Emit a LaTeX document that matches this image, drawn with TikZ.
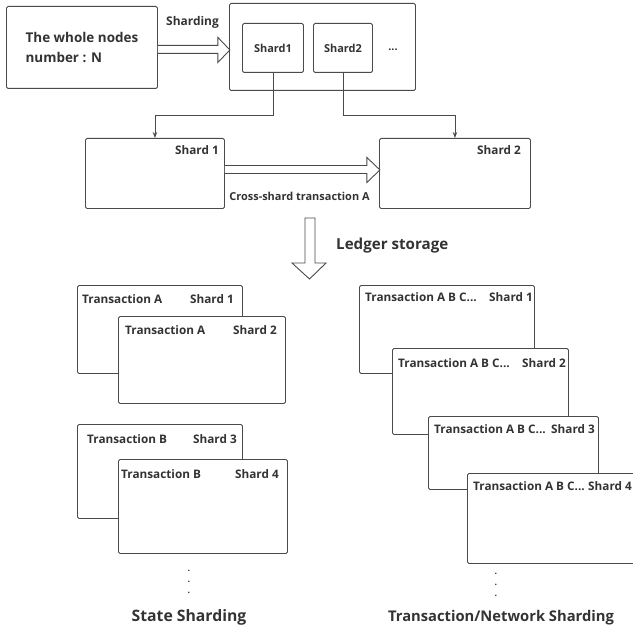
\documentclass[tikz,border=0pt]{standalone}
\usepackage{fontspec}
\setmainfont{Open Sans}
\usetikzlibrary{arrows.meta}
\definecolor{linec}{HTML}{4A4A4A}
\definecolor{textc}{HTML}{333333}
\tikzset{
  box/.style={draw=linec,fill=white,line width=0.9bp,rounded corners=1.5bp,inner sep=0,anchor=north west},
  lab/.style={text=textc,inner sep=0,font=\bfseries\fontsize{11.8}{13}\selectfont},
  small/.style={text=textc,inner sep=0,font=\bfseries\fontsize{11}{13}\selectfont},
  big/.style={text=textc,inner sep=0,font=\bfseries\fontsize{14.8}{16}\selectfont},
  hollow/.style={draw=linec,fill=white,line width=0.9bp,line join=miter},
  link/.style={draw=linec,line width=0.9bp,-{Stealth[length=6bp,width=4.5bp]}},
  dotcol/.style={text=textc,inner sep=0,align=center,font=\bfseries\fontsize{9}{11}\selectfont}
}
\begin{document}
\begin{tikzpicture}[x=1bp,y=-1bp]
  \useasboundingbox (0,0) rectangle (633,633);
  % top row
  \node[box,minimum width=151bp,minimum height=82bp] (whole) at (6,6) {};
  \node[big,align=left,font=\bfseries\fontsize{13.5}{20}\selectfont] (wholetxt) at (whole.center) {The whole nodes\\number : N};
  \node[box,minimum width=186bp,minimum height=87bp] (grp) at (229,3) {};
  \node[box,minimum width=61bp,minimum height=49bp] (s1) at (242,23) {};
  \node[box,minimum width=59bp,minimum height=49bp] (s2) at (313,23) {};
  \node[small] (s1txt) at (s1.center) {Shard1};
  \node[small] (s2txt) at (s2.center) {Shard2};
  \node[small] (more) at (393,50) {...};
  \node[small,font=\bfseries\fontsize{12}{14}\selectfont] (shardlab) at (192.5,22) {Sharding};
  \draw[hollow] (whole.east) ++(0,-2) -- ++(60,0) -- ++(0,-8) -- ++(12,12.5) -- ++(-12,12.5) -- ++(0,-9) -- ++(-60,0);
  % middle row
  \node[box,minimum width=139bp,minimum height=70bp] (sh1) at (85,138) {};
  \node[box,minimum width=151bp,minimum height=70bp] (sh2) at (379,138) {};
  \node[lab,anchor=east] (sh1txt) at (219,150) {Shard 1};
  \node[lab,anchor=east] (sh2txt) at (521,150) {Shard 2};
  \draw[link] (s1.south) -- ++(0,43) -| (sh1.north);
  \draw[link] (s2.south) -- ++(0,43) -| (sh2.north);
  \draw[hollow] (sh1.east) ++(0,-8) -- ++(142,0) -- ++(0,-8) -- ++(13,12.5) -- ++(-13,12.5) -- ++(0,-9) -- ++(-142,0);
  \node[small] (cross) at (299.5,196) {Cross-shard transaction A};
  \draw[hollow] (305,218) -- (305,263) -- (292,263) -- (309.5,279) -- (326,263) -- (315,263) -- (315,218) -- cycle;
  \node[big,anchor=west,font=\bfseries\fontsize{15.2}{17}\selectfont] (ledger) at (336,246) {Ledger storage};
  % state sharding
  \node[box,minimum width=165bp,minimum height=88bp] (ta1) at (77,285) {};
  \node[lab,anchor=west] at (82,299) {Transaction A};
  \node[lab,anchor=east] at (234,299) {Shard 1};
  \node[box,minimum width=167bp,minimum height=87bp] (ta2) at (118,316) {};
  \node[lab,anchor=west] at (125,330) {Transaction A};
  \node[lab,anchor=east] at (277,330) {Shard 2};
  \node[box,minimum width=165bp,minimum height=94bp] (tb3) at (77,424) {};
  \node[lab,anchor=west] at (87,439) {Transaction B};
  \node[lab,anchor=east] at (237,439) {Shard 3};
  \node[box,minimum width=169bp,minimum height=94bp] (tb4) at (118,459) {};
  \node[lab,anchor=west] at (121,474) {Transaction B};
  \node[lab,anchor=east] at (279,474) {Shard 4};
  \node[dotcol] (dotsl) at (189,582) {.\\.\\.};
  \node[big,font=\bfseries\fontsize{15.8}{18}\selectfont] (state) at (189,617) {State Sharding};
  % transaction/network sharding
  \foreach \n/\x/\y/\w/\h/\tx/\dy in {1/359/285/175/88/533/12,
    2/392/348/176/86/566/15,
    3/428/416/170/73/595/13,
    4/467/473/172/90/632/13}{
    \node[box,minimum width=\w bp,minimum height=\h bp] (net\n) at (\x,\y) {};
    \node[lab,anchor=west] (net\n txt) at (\x+6,\y+\dy) {Transaction A B C...};
    \node[lab,anchor=east] (net\n shard) at (\tx,\y+\dy) {Shard \n};
  }
  \node[dotcol] (dotsr) at (496,585) {.\\.\\.};
  \node[big] (network) at (501,618) {Transaction/Network Sharding};
\end{tikzpicture}
\end{document}
